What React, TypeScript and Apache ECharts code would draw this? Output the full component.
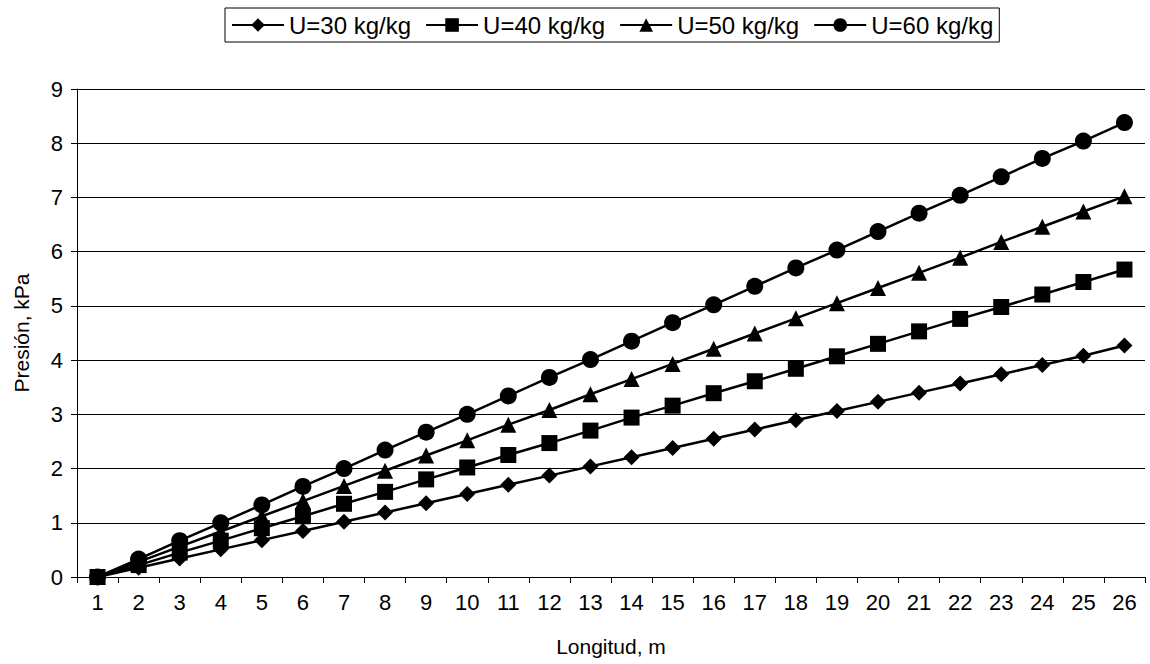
import React, { useEffect, useRef } from "react";
import * as echarts from "echarts";

const categories = ["1","2","3","4","5","6","7","8","9","10","11","12","13","14","15","16","17","18","19","20","21","22","23","24","25","26"];
const u30 = [0, 0.17, 0.34, 0.51, 0.68, 0.85, 1.02, 1.19, 1.36, 1.53, 1.7, 1.87, 2.04, 2.21, 2.38, 2.55, 2.72, 2.89, 3.06, 3.23, 3.4, 3.57, 3.74, 3.91, 4.08, 4.27];
const u40 = [0, 0.22, 0.45, 0.67, 0.9, 1.12, 1.35, 1.57, 1.8, 2.02, 2.25, 2.47, 2.7, 2.94, 3.16, 3.39, 3.61, 3.84, 4.07, 4.3, 4.53, 4.76, 4.98, 5.21, 5.44, 5.67];
const u50 = [0, 0.28, 0.56, 0.84, 1.12, 1.4, 1.68, 1.96, 2.24, 2.52, 2.81, 3.08, 3.37, 3.65, 3.93, 4.21, 4.49, 4.77, 5.05, 5.33, 5.61, 5.89, 6.18, 6.46, 6.74, 7.02];
const u60 = [0, 0.33, 0.67, 1.0, 1.33, 1.67, 2.0, 2.34, 2.67, 3.0, 3.34, 3.68, 4.01, 4.35, 4.69, 5.02, 5.36, 5.7, 6.03, 6.37, 6.71, 7.04, 7.38, 7.72, 8.04, 8.38];
const seriesNames = ["U=30 kg/kg", "U=40 kg/kg", "U=50 kg/kg", "U=60 kg/kg"];
const font = "'Liberation Sans', Arial, sans-serif";

export default function App() {
  const ref = useRef<HTMLDivElement>(null);
  useEffect(() => {
    const chart = echarts.init(ref.current!, null, { renderer: "svg" });
    const mk = (name: string, data: number[], symbol: string, size: number) => ({
      name,
      type: "line",
      data,
      symbol,
      symbolSize: size,
      lineStyle: { color: "#000", width: 2.5 },
      itemStyle: { color: "#000" },
    });
    chart.setOption({
      animation: false,
      backgroundColor: "#fff",
      textStyle: { fontFamily: font },
      legend: {
        top: 8,
        left: 225,
        borderColor: "#000",
        borderWidth: 1,
        padding: [5, 6, 5, 6],
        itemGap: 14,
        itemWidth: 52,
        itemHeight: 17,
        textStyle: { fontFamily: font, fontSize: 24, color: "#000" },
        data: seriesNames,
      },
      grid: { left: 77, right: 5, top: 89, bottom: 87, containLabel: false },
      xAxis: {
        type: "category",
        data: categories,
        boundaryGap: true,
        name: "Longitud, m",
        nameLocation: "middle",
        nameGap: 59,
        nameTextStyle: { fontFamily: font, fontSize: 21, color: "#000" },
        axisLine: { lineStyle: { color: "#000", width: 1 } },
        axisTick: { show: true, length: 6, lineStyle: { color: "#000" } },
        axisLabel: { fontFamily: font, fontSize: 22, color: "#000", margin: 14 },
      },
      yAxis: {
        type: "value",
        min: 0,
        max: 9,
        interval: 1,
        name: "Presión, kPa",
        nameLocation: "middle",
        nameGap: 45,
        nameTextStyle: { fontFamily: font, fontSize: 21, color: "#000" },
        axisLine: { show: true, lineStyle: { color: "#000", width: 1 } },
        axisTick: { show: true, length: 6, lineStyle: { color: "#000" } },
        axisLabel: { fontFamily: font, fontSize: 22, color: "#000", margin: 14 },
        splitLine: { show: true, lineStyle: { color: "#000", width: 1 } },
      },
      series: [
        mk(seriesNames[0], u30, "diamond", 16),
        mk(seriesNames[1], u40, "rect", 16),
        mk(seriesNames[2], u50, "triangle", 16),
        mk(seriesNames[3], u60, "circle", 17),
      ],
    });
    return () => chart.dispose();
  }, []);
  return <div ref={ref} style={{ width: 1150, height: 664, position: "absolute", left: 0, top: 0 }} />;
}
